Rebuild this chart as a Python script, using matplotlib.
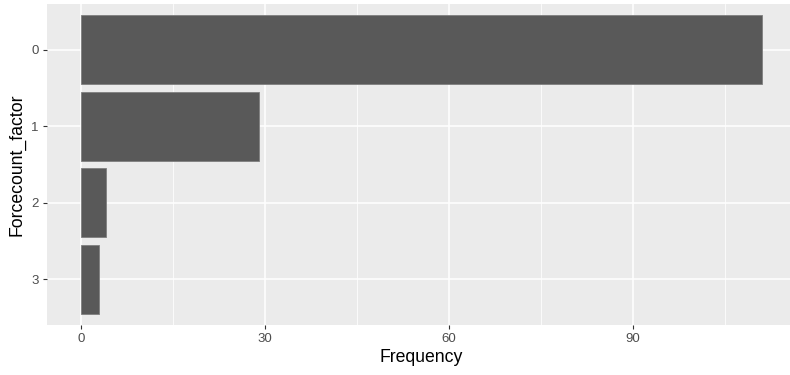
import matplotlib
matplotlib.use("Agg")
import matplotlib.pyplot as plt

# Data
categories = ["0", "1", "2", "3"]
frequency = [111, 29, 4, 3]

plt.rcParams['font.family'] = ['Liberation Sans', 'DejaVu Sans']

fig = plt.figure(figsize=(7.9, 3.75), dpi=100)
ax = fig.add_axes([47 / 790, 50 / 375, 749 / 790, 321 / 375])
ax.set_facecolor('#EBEBEB')

ypos = list(range(len(categories)))
ax.barh(ypos, frequency, height=0.9, color='#595959', edgecolor='#7f7f7f',
        linewidth=0.6, zorder=3)

ax.set_xlim(-5.55, 116.55)
ax.set_ylim(3.6, -0.6)

ax.set_xticks([0, 30, 60, 90])
ax.set_xticks([15, 45, 75, 105], minor=True)
ax.set_yticks(ypos)
ax.set_yticklabels(categories)

ax.grid(which='major', color='white', linewidth=1.1, zorder=0)
ax.grid(which='minor', axis='x', color='white', linewidth=0.55, zorder=0)
ax.tick_params(which='minor', length=0)
ax.tick_params(which='major', length=3, width=0.8, color='#333333',
               labelcolor='#4D4D4D', labelsize=9.5, pad=3)

for s in ax.spines.values():
    s.set_visible(False)

ax.set_xlabel("Frequency", fontsize=12.7, color='black', labelpad=3)
ax.set_ylabel("Forcecount_factor", fontsize=12.7, color='black', labelpad=4)

fig.savefig("out.png", dpi=100)
